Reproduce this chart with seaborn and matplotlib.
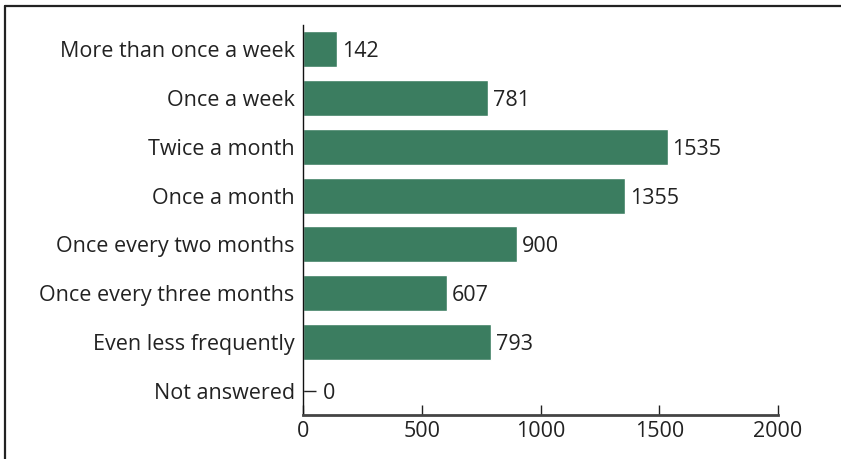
import matplotlib
matplotlib.use("Agg")
import matplotlib.pyplot as plt
import seaborn as sns
import pandas as pd
from matplotlib.lines import Line2D

categories = ["More than once a week", "Once a week", "Twice a month", "Once a month",
              "Once every two months", "Once every three months", "Even less frequently",
              "Not answered"]
values = [142, 781, 1535, 1355, 900, 607, 793, 0]
xticks = [0, 500, 1000, 1500, 2000]

sns.set_theme(style="white")
plt.rcParams['font.family'] = ['Open Sans', 'DejaVu Sans']

df = pd.DataFrame({"category": categories, "value": values})

fig = plt.figure(figsize=(8.41, 4.59), dpi=100)
ax = fig.add_axes([303/841, 1-415/459, (778-303)/841, (415-25)/459])

sns.barplot(data=df, y="category", x="value", color="#3b7d60", saturation=1,
            width=0.74, ax=ax, orient="h")

ax.set_xlim(0, 2000)
ax.set_ylim(7.5, -0.5)
ax.set_xticks(xticks)
ax.set_xticklabels([str(t) for t in xticks])
ax.set_xlabel("")
ax.set_ylabel("")

for s in ["top", "right"]:
    ax.spines[s].set_visible(False)
ax.spines["left"].set_color("#111111")
ax.spines["left"].set_linewidth(1.0)
ax.spines["bottom"].set_color("#444444")
ax.spines["bottom"].set_linewidth(2.0)

fs = 15.5
ax.tick_params(axis="x", direction="in", length=7, width=1, color="#222222",
               labelsize=fs, labelcolor="#222222", pad=4)
ax.tick_params(axis="y", direction="in", length=9, width=1, color="#222222",
               labelsize=fs, labelcolor="#222222", pad=6)
ax.xaxis.set_ticks_position("bottom")
ax.yaxis.set_ticks_position("left")
for lbl in ax.get_yticklabels():
    lbl.set_va("center_baseline")

for i, v in enumerate(values):
    ax.annotate(str(v), xy=(v, i), xytext=(3.5 if v > 0 else 14, 0),
                textcoords="offset points", va="center_baseline", ha="left",
                fontsize=fs, color="#222222")

# figure border (left and top)
fig.add_artist(Line2D([5/841, 5/841], [0, 1-6/459], transform=fig.transFigure,
                      color="#222222", linewidth=1.6))
fig.add_artist(Line2D([5/841, 1], [1-6/459, 1-6/459], transform=fig.transFigure,
                      color="#222222", linewidth=1.6))

fig.savefig("out.png", dpi=100)
